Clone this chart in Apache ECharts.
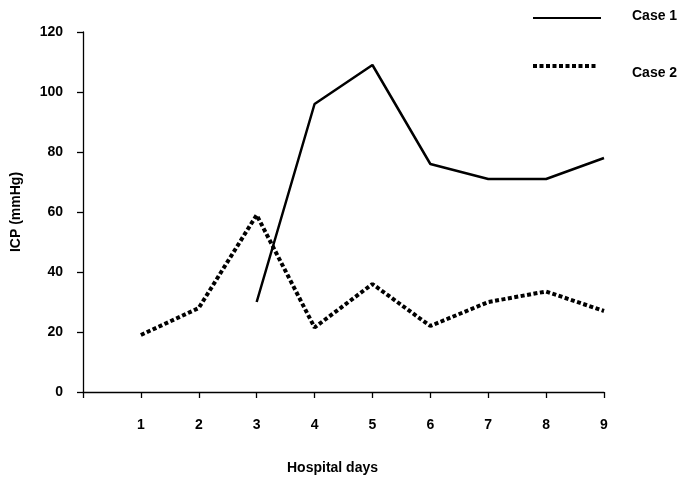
<!DOCTYPE html>
<html>
<head>
<meta charset="utf-8">
<script src="https://cdn.jsdelivr.net/npm/echarts@6/dist/echarts.min.js"></script>
<style>html,body{margin:0;padding:0;background:#fff;}#c{width:685px;height:482px;}</style>
</head>
<body>
<div id="c"></div>
<script>
const days = [1, 2, 3, 4, 5, 6, 7, 8, 9];
const case1Days = [3, 4, 5, 6, 7, 8, 9];
const case1 = [30, 96, 109, 76, 71, 71, 78];
const case2 = [19, 28, 59, 21.5, 36, 22, 30, 33.5, 27];
const yTicks = [0, 20, 40, 60, 80, 100, 120];

const font = 'Liberation Sans, Arial, sans-serif';
const chart = echarts.init(document.getElementById('c'), null, {renderer: 'canvas'});
chart.setOption({
  animation: false,
  backgroundColor: '#fff',
  grid: {left: 83, right: 81, top: 32, bottom: 90},
  xAxis: {
    type: 'value', min: 0, max: 9, interval: 1,
    name: 'Hospital days', nameLocation: 'middle', nameGap: 69,
    nameTextStyle: {fontFamily: font, fontWeight: 'bold', fontSize: 14, color: '#000', padding: [0, 22, 0, 0]},
    axisLine: {lineStyle: {color: '#000', width: 1.3}},
    axisTick: {show: true, length: 6, lineStyle: {color: '#000', width: 1.3}},
    axisLabel: {fontFamily: font, fontWeight: 'bold', fontSize: 14, color: '#000', margin: 26,
      formatter: v => (days.includes(v) ? String(v) : '')},
    splitLine: {show: false}
  },
  yAxis: {
    type: 'value', min: yTicks[0], max: yTicks[yTicks.length - 1], interval: 20,
    name: 'ICP (mmHg)', nameLocation: 'middle', nameGap: 60, nameRotate: 90,
    nameTextStyle: {fontFamily: font, fontWeight: 'bold', fontSize: 14, color: '#000'},
    axisLine: {show: true, lineStyle: {color: '#000', width: 1.3}},
    axisTick: {show: true, length: 6, lineStyle: {color: '#000', width: 1.3}},
    axisLabel: {fontFamily: font, fontWeight: 'bold', fontSize: 14, color: '#000', margin: 20},
    splitLine: {show: false}
  },
  series: [
    {
      name: 'Case 1', type: 'line', showSymbol: false, symbol: 'none',
      data: case1Days.map((d, i) => [d, case1[i]]),
      lineStyle: {color: '#000', width: 2.5}
    },
    {
      name: 'Case 2', type: 'line', showSymbol: false, symbol: 'none',
      data: days.map((d, i) => [d, case2[i]]),
      lineStyle: {color: '#000', width: 4, type: [4, 2.5]}
    }
  ],
  graphic: [
    {type: 'line', shape: {x1: 533, y1: 18, x2: 601, y2: 18}, style: {stroke: '#000', lineWidth: 2}},
    {type: 'text', left: 632, top: 9, style: {text: 'Case 1', font: 'bold 14px ' + font, fill: '#000'}},
    {type: 'line', shape: {x1: 533, y1: 66, x2: 598, y2: 66}, style: {stroke: '#000', lineWidth: 4, lineDash: [4, 2.5]}},
    {type: 'text', left: 632, top: 66, style: {text: 'Case 2', font: 'bold 14px ' + font, fill: '#000'}}
  ]
});
</script>
</body>
</html>
